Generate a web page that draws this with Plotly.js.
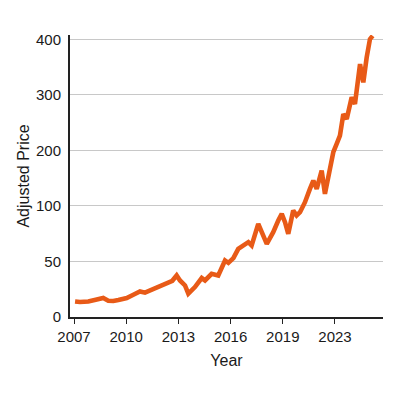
<!DOCTYPE html>
<html>
<head>
<meta charset="utf-8">
<script src="https://cdn.plot.ly/plotly-3.0.1.min.js"></script>
<style>html,body{margin:0;padding:0;background:#fff;}#chart{width:400px;height:400px;}</style>
</head>
<body>
<div id="chart"></div>
<script>
// Data (year, adjusted price in the axis' labelled units)
var years = [2007.06, 2007.34, 2007.82, 2008.30, 2008.68, 2008.97, 2009.26, 2009.55, 2009.83, 2010.03,
  2010.41, 2010.79, 2011.08, 2011.37, 2011.66, 2012.04, 2012.42, 2012.65, 2012.90, 2013.09,
  2013.38, 2013.57, 2013.95, 2014.34, 2014.53, 2014.91, 2015.29, 2015.68, 2015.87, 2016.16,
  2016.44, 2016.73, 2017.02, 2017.21, 2017.59, 2018.08, 2018.45, 2018.74, 2018.94, 2019.17,
  2019.42, 2019.80, 2020.06, 2020.32, 2020.70, 2021.08, 2021.34, 2021.60, 2021.98, 2022.23,
  2022.49, 2022.87, 2023.13, 2023.38, 2023.64, 2023.90, 2024.28, 2024.53, 2024.92, 2025.17,
  2025.43, 2025.68, 2025.89];
var prices = [14.0, 13.5, 14.0, 15.3, 17.1, 14.7, 14.4, 15.3, 15.8, 17.1,
  20.1, 23.0, 21.9, 23.9, 24.8, 27.9, 30.8, 32.6, 37.4, 32.9,
  28.4, 21.0, 27.0, 35.1, 32.9, 38.9, 37.4, 50.9, 48.8, 53.1,
  61.4, 64.4, 67.4, 64.4, 83.9, 65.9, 76.4, 86.9, 92.9, 85.4,
  74.9, 95.9, 91.4, 94.4, 106.8, 130.8, 145.7, 130.8, 163.7, 121.8,
  154.7, 196.8, 211.7, 226.6, 265.6, 256.7, 295.7, 283.7, 355.6, 322.7,
  367.6, 400.5, 406.5];
var xTickLabels = ['2007', '2010', '2013', '2016', '2019', '2023'];
var yTickLabels = ['0', '50', '100', '200', '300', '400'];

// The reference's axes are evenly spaced between labelled ticks; map values onto tick positions.
function tickPos(labels, v) {
  var nums = labels.map(Number);
  for (var i = 0; i < nums.length - 1; i++) {
    if (v <= nums[i + 1] || i === nums.length - 2) {
      return i + (v - nums[i]) / (nums[i + 1] - nums[i]);
    }
  }
}
var xs = years.map(function (v) { return tickPos(xTickLabels, v); });
var ys = prices.map(function (v) { return tickPos(yTickLabels, v); });

var trace = {
  x: xs, y: ys, type: 'scatter', mode: 'lines',
  line: {color: '#e85a17', width: 4.6, shape: 'linear'},
  text: prices.map(function (p, i) { return years[i].toFixed(2) + ': ' + p; }),
  hoverinfo: 'text'
};

var tickFont = {family: 'Liberation Sans, Arial, sans-serif', size: 15, color: '#1a1a1a'};
var titleFont = {family: 'Liberation Sans, Arial, sans-serif', size: 16, color: '#1a1a1a'};
var layout = {
  width: 400, height: 400,
  margin: {l: 70, r: 17, t: 35, b: 83},
  paper_bgcolor: '#fff', plot_bgcolor: '#fff',
  showlegend: false,
  font: tickFont,
  xaxis: {
    range: [-0.077, 5.92],
    tickmode: 'array', tickvals: [0, 1, 2, 3, 4, 5], ticktext: xTickLabels,
    showgrid: false, zeroline: false,
    showline: true, linecolor: '#222', linewidth: 2,
    ticks: 'outside', ticklen: 5, tickcolor: '#222', tickwidth: 1,
    tickfont: tickFont,
    title: {text: 'Year', font: titleFont, standoff: 11}
  },
  yaxis: {
    range: [0, 5.08],
    tickmode: 'array', tickvals: [0, 1, 2, 3, 4, 5], ticktext: yTickLabels,
    showgrid: true, gridcolor: '#c8c8c8', gridwidth: 1,
    zeroline: false,
    showline: true, linecolor: '#222', linewidth: 2,
    ticks: 'outside', ticklen: 4, tickcolor: 'rgba(0,0,0,0)',
    tickfont: tickFont,
    title: {text: 'Adjusted Price', font: titleFont, standoff: 2}
  }
};

Plotly.newPlot('chart', [trace], layout, {staticPlot: true, displayModeBar: false});
</script>
</body>
</html>
